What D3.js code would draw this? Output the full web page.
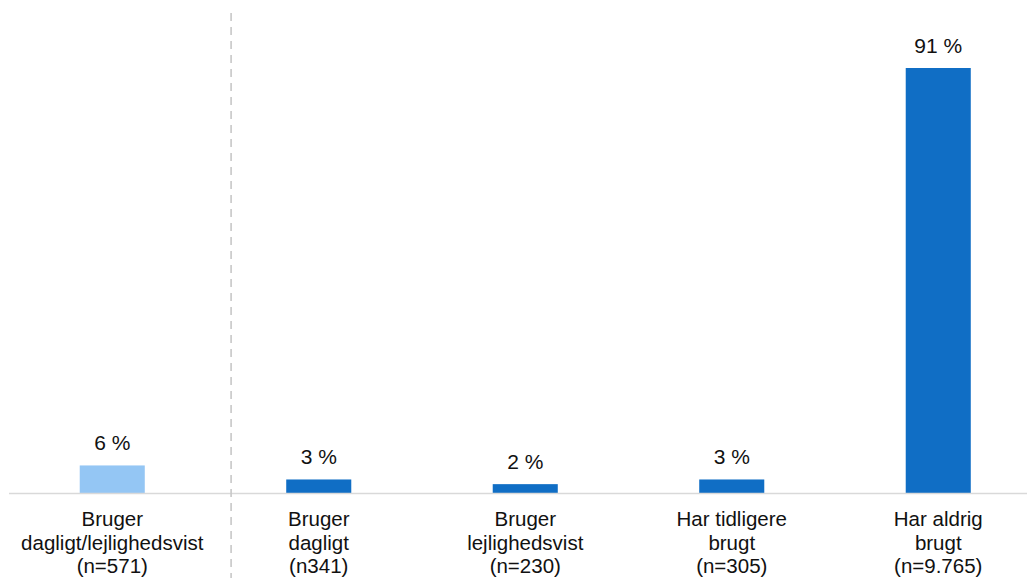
<!DOCTYPE html>
<html>
<head>
<meta charset="utf-8">
<script src="https://cdn.jsdelivr.net/npm/d3@7"></script>
<style>
  html, body { margin: 0; padding: 0; background: #fff; }
  svg { display: block; font-family: "Liberation Sans", Arial, sans-serif; }
</style>
</head>
<body>
<svg id="chart" width="1027" height="578"></svg>
<script>
const categories = [
  ["Bruger", "dagligt/lejlighedsvist", "(n=571)"],
  ["Bruger", "dagligt", "(n341)"],
  ["Bruger", "lejlighedsvist", "(n=230)"],
  ["Har tidligere", "brugt", "(n=305)"],
  ["Har aldrig", "brugt", "(n=9.765)"]
];
const values = [6, 3, 2, 3, 91];
const valueLabels = ["6 %", "3 %", "2 %", "3 %", "91 %"];
const barColors = ["#94c6f4", "#106ec5", "#106ec5", "#106ec5", "#106ec5"];

const W = 1027, H = 578;
const baseY = 493.5;
const svg = d3.select("#chart");

const x = d3.scaleBand()
  .domain(d3.range(categories.length))
  .range([9, 1041.5])
  .paddingInner(0.685)
  .paddingOuter(0.3425);

const y = d3.scaleLinear().domain([0, 91]).range([baseY, 68]);

// bars
svg.selectAll("rect.bar")
  .data(values)
  .join("rect")
  .attr("class", "bar")
  .attr("x", (d, i) => x(i))
  .attr("width", x.bandwidth())
  .attr("y", d => y(d))
  .attr("height", d => baseY - y(d))
  .attr("fill", (d, i) => barColors[i]);

// baseline axis
svg.append("line")
  .attr("x1", 9).attr("x2", W)
  .attr("y1", baseY).attr("y2", baseY)
  .attr("stroke", "#d9d9d9").attr("stroke-width", 1.6);

// dashed separator
const sepX = x(0) + x.step() * 0.733;
svg.append("line")
  .attr("x1", sepX).attr("x2", sepX)
  .attr("y1", 13).attr("y2", H)
  .attr("stroke", "#c8c8c8").attr("stroke-width", 1.6)
  .attr("stroke-dasharray", "8,6");

// value labels
svg.selectAll("text.val")
  .data(values)
  .join("text")
  .attr("class", "val")
  .attr("x", (d, i) => x(i) + x.bandwidth() / 2)
  .attr("y", d => y(d) - 15.5)
  .attr("text-anchor", "middle")
  .attr("font-size", 21)
  .attr("fill", "#111")
  .text((d, i) => valueLabels[i]);

// category labels
const lab = svg.selectAll("text.cat")
  .data(categories)
  .join("text")
  .attr("class", "cat")
  .attr("text-anchor", "middle")
  .attr("font-size", 20.5)
  .attr("fill", "#111");
lab.each(function(lines, i) {
  const t = d3.select(this);
  lines.forEach((ln, j) => {
    t.append("tspan")
      .attr("x", x(i) + x.bandwidth() / 2)
      .attr("y", 526 + j * 23.6)
      .text(ln);
  });
});
</script>
</body>
</html>
